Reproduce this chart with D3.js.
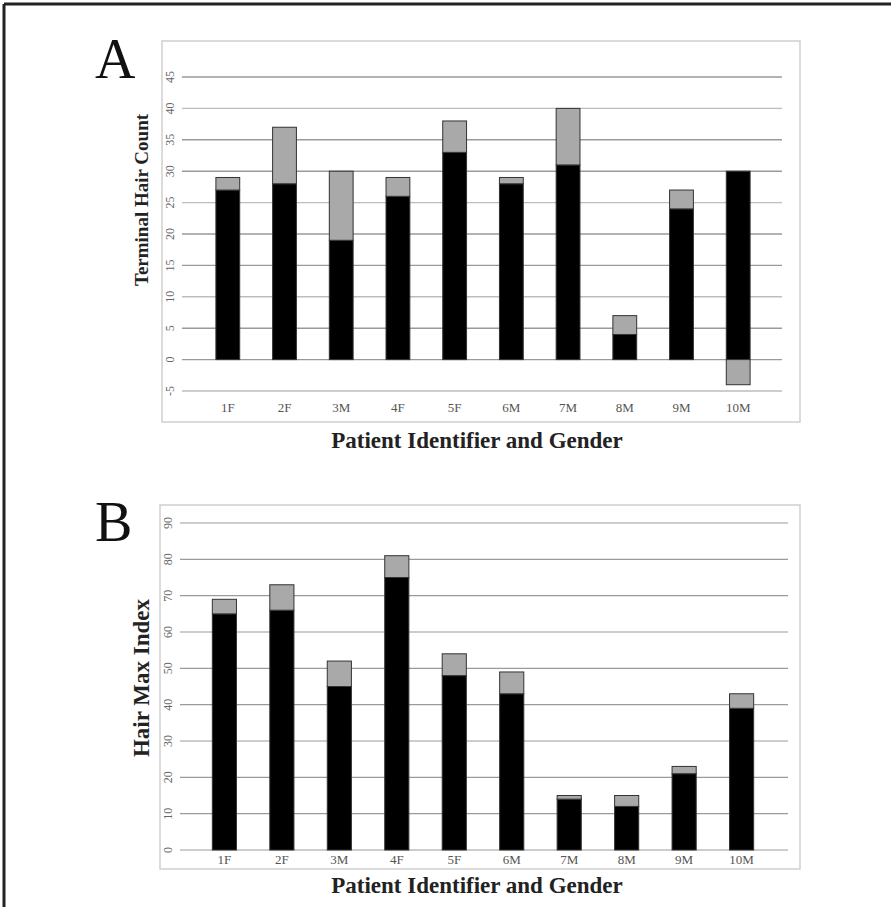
<!DOCTYPE html>
<html>
<head>
<meta charset="utf-8">
<script src="https://cdn.jsdelivr.net/npm/d3@7"></script>
<style>
  body { margin: 0; background: #fff; }
  svg { font-family: "Liberation Serif", "Times New Roman", serif; }
</style>
</head>
<body>
<svg id="fig" width="891" height="907"></svg>
<script>
// patient ids
const patients = ["1F", "2F", "3M", "4F", "5F", "6M", "7M", "8M", "9M", "10M"];

// panel A - terminal hair count
const hairBase = [27, 28, 19, 26, 33, 28, 31, 4, 24, 30];
const hairChange = [2, 9, 11, 3, 5, 1, 9, 3, 3, -4];
const hairTicks = [-5, 0, 5, 10, 15, 20, 25, 30, 35, 40, 45];

// panel B - hair max index
const maxBase = [65, 66, 45, 75, 48, 43, 14, 12, 21, 39];
const maxChange = [4, 7, 7, 6, 6, 6, 1, 3, 2, 4];
const maxTicks = [0, 10, 20, 30, 40, 50, 60, 70, 80, 90];

const svg = d3.select("#fig");

// outer border (top + left)
svg.append("line").attr("x1", 4).attr("x2", 891).attr("y1", 4).attr("y2", 4)
  .attr("stroke", "#222").attr("stroke-width", 3);
svg.append("line").attr("x1", 4).attr("x2", 4).attr("y1", 4).attr("y2", 907)
  .attr("stroke", "#222").attr("stroke-width", 3);

function panel(opts) {
  const g = svg.append("g");

  // frame
  g.append("rect")
    .attr("x", opts.frame[0]).attr("y", opts.frame[1])
    .attr("width", opts.frame[2] - opts.frame[0])
    .attr("height", opts.frame[3] - opts.frame[1])
    .attr("fill", "#fff").attr("stroke", "#cfcfcf").attr("stroke-width", 1.5);

  const x = d3.scaleBand().domain(patients).range(opts.xRange).padding(0.58);
  const y = d3.scaleLinear().domain(opts.yDomain).range(opts.yRange);

  // gridlines
  g.append("g").selectAll("line")
    .data(opts.ticks)
    .join("line")
    .attr("x1", opts.gridX[0]).attr("x2", opts.gridX[1])
    .attr("y1", d => y(d)).attr("y2", d => y(d))
    .attr("stroke", (d, i) => (i % 3 === 0 ? "#bdbdbd" : "#9a9a9a"))
    .attr("stroke-width", 1.4);

  // tick labels, rotated
  g.append("g").selectAll("text")
    .data(opts.ticks)
    .join("text")
    .attr("transform", d => "translate(" + opts.tickX + "," + y(d) + ") rotate(-90)")
    .attr("text-anchor", "middle")
    .attr("font-size", 12)
    .attr("fill", "#666")
    .text(d => d);

  // stacked bars
  const rows = patients.map((p, i) => ({ id: p, base: opts.base[i], change: opts.change[i] }));
  const series = d3.stack()
    .keys(["base", "change"])
    .offset(d3.stackOffsetDiverging)(rows);
  const fills = { base: "#000", change: "#a9a9a9" };

  g.append("g").selectAll("g")
    .data(series)
    .join("g")
    .attr("fill", d => fills[d.key])
    .attr("stroke", "#333")
    .attr("stroke-width", 1)
    .selectAll("rect")
    .data(d => d)
    .join("rect")
    .attr("x", d => x(d.data.id))
    .attr("width", x.bandwidth())
    .attr("y", d => y(Math.max(d[0], d[1])))
    .attr("height", d => Math.abs(y(d[0]) - y(d[1])));

  // category labels
  g.append("g").selectAll("text")
    .data(patients)
    .join("text")
    .attr("x", d => x(d) + x.bandwidth() / 2)
    .attr("y", opts.catY)
    .attr("text-anchor", "middle")
    .attr("font-size", 13)
    .attr("fill", "#555")
    .text(d => d);

  // axis titles
  g.append("text")
    .attr("transform", "translate(" + opts.yTitle[0] + "," + opts.yTitle[1] + ") rotate(-90)")
    .attr("text-anchor", "middle")
    .attr("font-size", opts.yTitleSize).attr("font-weight", "bold").attr("fill", "#222")
    .text(opts.yLabel);
  g.append("text")
    .attr("x", opts.xTitle[0]).attr("y", opts.xTitle[1])
    .attr("text-anchor", "middle")
    .attr("font-size", 23).attr("font-weight", "bold").attr("fill", "#222")
    .text("Patient Identifier and Gender");

  // panel letter
  g.append("text")
    .attr("x", opts.letter[0]).attr("y", opts.letter[1])
    .attr("font-size", 56).attr("fill", "#111")
    .text(opts.name);
}

panel({
  name: "A",
  letter: [95, 78],
  frame: [162, 41, 800, 422],
  xRange: [183, 783],
  yDomain: [-5, 45],
  yRange: [391, 77],
  gridX: [182, 782],
  tickX: 174,
  ticks: hairTicks,
  base: hairBase,
  change: hairChange,
  catY: 412,
  yLabel: "Terminal Hair Count",
  yTitleSize: 19,
  yTitle: [148, 200],
  xTitle: [477, 448],
  
});

panel({
  name: "B",
  letter: [95, 541],
  frame: [160, 505, 800, 869],
  xRange: [179, 787],
  yDomain: [0, 90],
  yRange: [850, 523],
  gridX: [180, 788],
  tickX: 172,
  ticks: maxTicks,
  base: maxBase,
  change: maxChange,
  catY: 864,
  yLabel: "Hair Max Index",
  yTitleSize: 23,
  yTitle: [149, 678],
  xTitle: [477, 893]
});
</script>
</body>
</html>
